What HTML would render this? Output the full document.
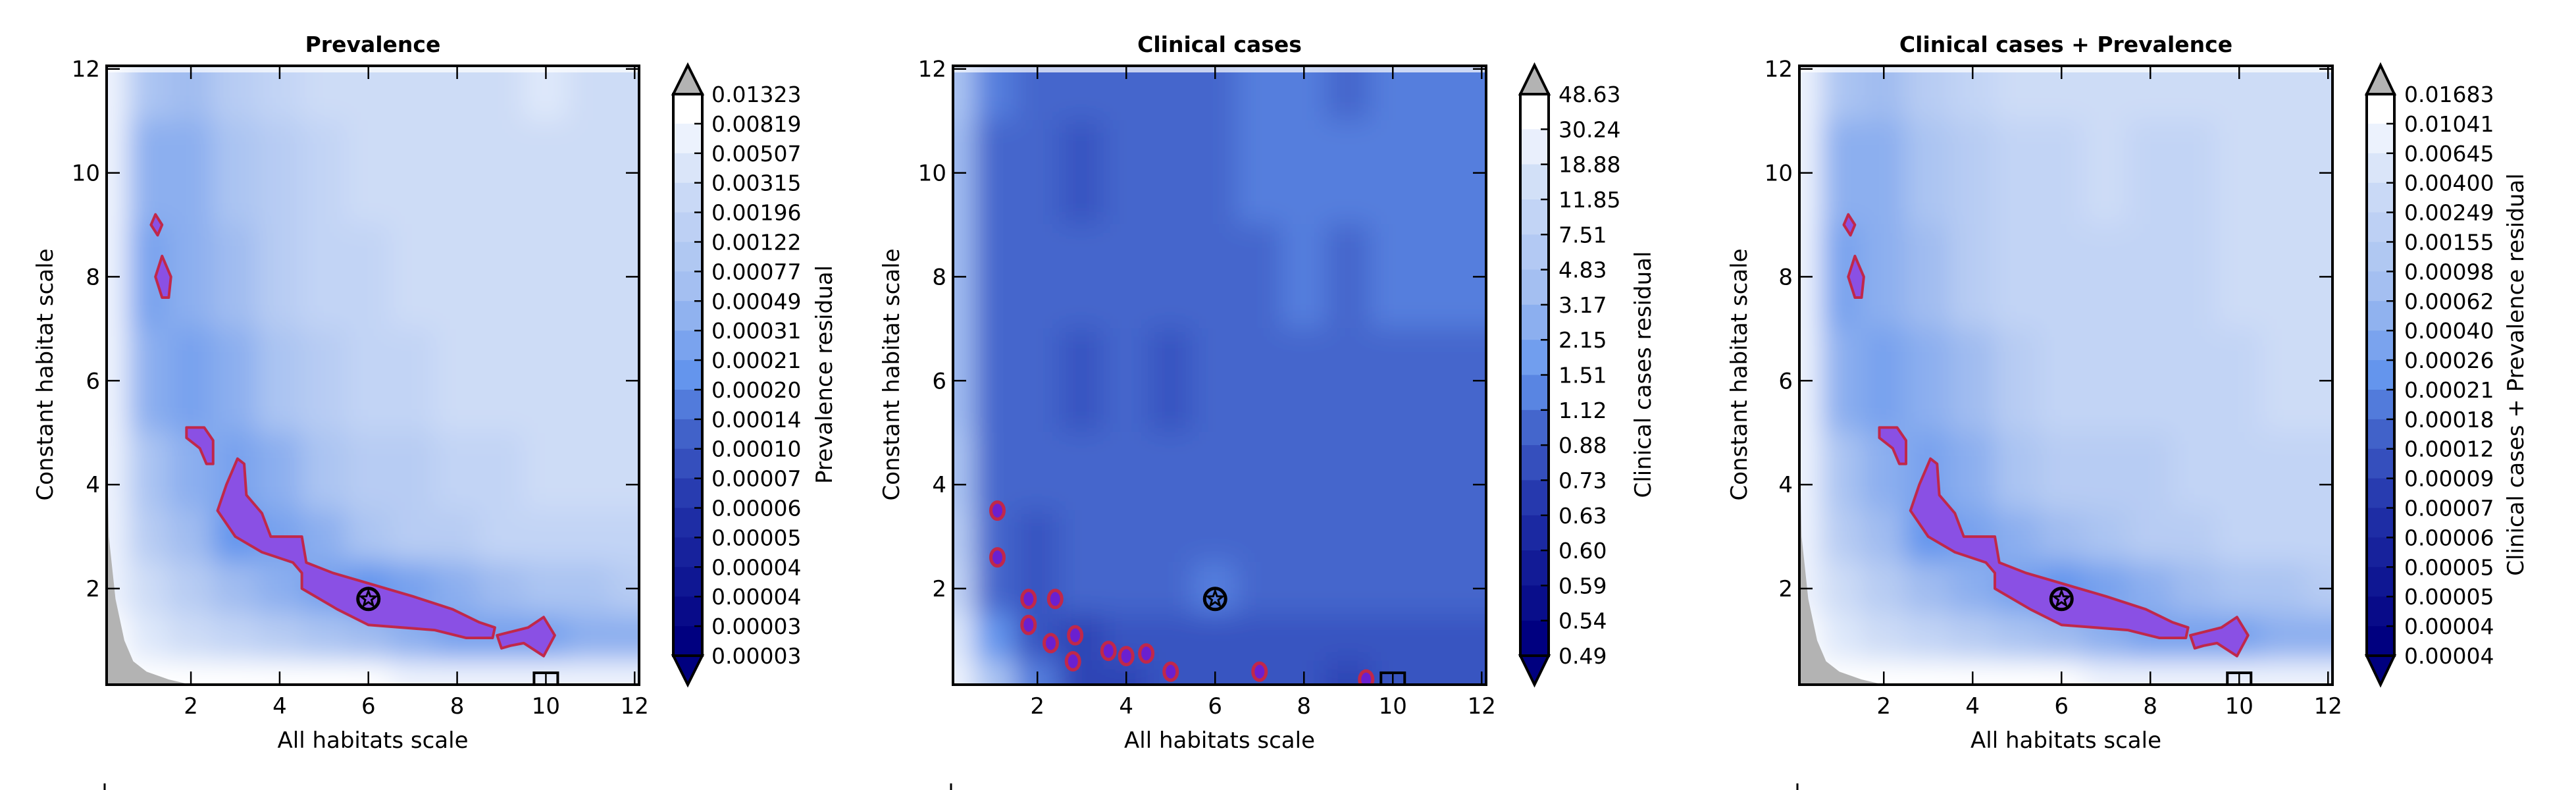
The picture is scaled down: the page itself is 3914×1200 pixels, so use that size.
<!DOCTYPE html>
<html><head><meta charset="utf-8">
<style>
html,body{margin:0;padding:0;background:#fff;}
svg{display:block;font-family:"DejaVu Sans","Liberation Sans",sans-serif;}
</style></head>
<body>
<svg id="fig" width="3914" height="1200" viewBox="0 0 3914 1200" xmlns="http://www.w3.org/2000/svg">
<defs>
<filter id="blur" x="-20%" y="-20%" width="140%" height="140%"><feGaussianBlur stdDeviation="20"/></filter>
</defs>
</svg>
<script>
// ---- data ----
const gridX = [0.2,1,2,3,4,5,6,7,8,9,10,11,12];
const gridY = [12,10,8,6,4,3,2,1,0.2];
const prevLevels = [
 [19,14,13,15,16,17,17,17,17,17,18,17,17],
 [19,12,12,14,15,16,17,17,17,17,17,17,17],
 [19,11,12,13,15,16,16,17,17,17,17,17,17],
 [19,12,11,12,14,15,16,16,17,17,17,17,17],
 [19,14,12,11,12,14,15,15,16,16,17,17,17],
 [19,15,13,10,11,12,14,15,15,16,16,16,16],
 [19,17,15,13,12,11,10,11,12,13,14,14,15],
 [20,18,17,16,15,14,13,12,11,11,11,12,12],
 [20,20,20,20,20,20,20,19,19,19,19,19,19]
];
const clinLevels = [
 [14,9,8,8,8,8,8,9,9,8,9,9,9],
 [13,8,8,7,8,8,8,9,9,9,9,9,9],
 [13,8,8,8,8,8,8,8,9,8,9,9,9],
 [13,8,8,7,8,7,8,8,8,8,8,8,8],
 [14,8,8,8,8,8,8,8,8,8,8,8,8],
 [15,8,7,8,8,8,8,8,8,8,8,8,8],
 [16,8,7,8,8,8,9,8,8,8,8,8,8],
 [18,10,7,6,7,7,7,7,7,7,7,7,7],
 [19,14,9,6,6,7,7,7,7,6,7,7,7]
];
const bothLevels = [
 [19,14,13,15,16,17,17,17,17,17,17,17,17],
 [19,12,12,14,15,16,16,17,16,16,17,17,17],
 [19,11,12,13,15,16,16,16,16,16,17,17,17],
 [19,12,11,12,13,15,16,16,16,16,16,17,17],
 [19,14,12,11,12,14,15,15,15,16,16,16,16],
 [19,15,13,10,11,12,13,14,15,15,16,16,16],
 [19,17,15,13,12,11,10,11,12,13,14,14,15],
 [20,18,17,16,15,14,13,12,11,11,11,12,12],
 [20,20,20,20,20,20,20,19,19,19,19,19,19]
];
const prevTicks = ["0.01323","0.00819","0.00507","0.00315","0.00196","0.00122","0.00077","0.00049","0.00031","0.00021","0.00020","0.00014","0.00010","0.00007","0.00006","0.00005","0.00004","0.00004","0.00003","0.00003"];
const clinTicks = ["48.63","30.24","18.88","11.85","7.51","4.83","3.17","2.15","1.51","1.12","0.88","0.73","0.63","0.60","0.59","0.54","0.49"];
const bothTicks = ["0.01683","0.01041","0.00645","0.00400","0.00249","0.00155","0.00098","0.00062","0.00040","0.00026","0.00021","0.00018","0.00012","0.00009","0.00007","0.00006","0.00005","0.00005","0.00004","0.00004"];
const xTicks = [2,4,6,8,10,12];
const yTicks = [2,4,6,8,10,12];
const bestPoint = [6,1.8];
const squarePoint = [10,0.15];
// purple significance regions (data coords)
const bandMain = [[2.6,3.5],[2.8,4.0],[3.05,4.5],[3.2,4.4],[3.25,3.8],[3.6,3.45],[3.8,3.0],[4.5,3.0],[4.6,2.5],[5.2,2.3],[6.0,2.1],[7.0,1.85],[7.9,1.6],[8.5,1.35],[8.85,1.25],[8.8,1.05],[8.2,1.05],[7.5,1.2],[6.0,1.3],[5.3,1.6],[4.5,2.0],[4.5,2.3],[4.3,2.5],[3.6,2.7],[3.0,3.0]];
const bandRight = [[9.0,0.85],[8.9,1.1],[9.6,1.25],[9.95,1.45],[10.2,1.1],[9.95,0.7],[9.5,0.95],[9.2,0.9]];
const blob5 = [[1.9,5.1],[2.3,5.1],[2.5,4.85],[2.5,4.4],[2.35,4.4],[2.2,4.7],[1.9,4.9]];
const blob8 = [[1.35,8.4],[1.55,8.0],[1.5,7.6],[1.35,7.6],[1.2,8.0]];
const blob9 = [[1.2,9.2],[1.35,9.0],[1.25,8.8],[1.1,9.0]];
const clinSpots = [[1.1,3.5],[1.1,2.6],[1.8,1.8],[2.4,1.8],[1.8,1.3],[2.85,1.1],[2.3,0.95],[3.6,0.8],[4.0,0.7],[4.45,0.75],[5.0,0.4],[7.0,0.4],[9.4,0.25],[2.8,0.6]];
const grayWedge = [[0.1,5],[0.15,3],[0.3,1.8],[0.5,1.0],[0.7,0.6],[1.0,0.4],[1.5,0.25],[2.0,0.15],[0.1,0.15]];

// ---- helpers ----
const NS="http://www.w3.org/2000/svg";
const fig=document.getElementById('fig');
function mk(tag,attrs,parent){const e=document.createElementNS(NS,tag);for(const k in attrs)e.setAttribute(k,attrs[k]);(parent||fig).appendChild(e);return e;}
const stops=[[0,[0,0,128]],[5,[34,51,170]],[8,[68,102,204]],[10,[100,149,237]],[13,[160,188,240]],[17,[205,220,246]],[19,[238,243,253]],[20,[255,255,255]]];
function color(l){for(let i=0;i<stops.length-1;i++){const a=stops[i],b=stops[i+1];if(l<=b[0]){const t=(l-a[0])/(b[0]-a[0]);const c=a[1].map((v,j)=>Math.round(v+(b[1][j]-v)*t));return`rgb(${c[0]},${c[1]},${c[2]})`;}}return'#fff';}
const XMIN=0.1,XMAX=12.1,YMIN=0.15,YMAX=12.06;
const TOP=100,BOT=1040;

const panels=[
 {name:'prevalence',title:'Prevalence',L:162,R:971,levels:prevLevels,ticks:prevTicks,cbL:1023,cbR:1067,cbLabel:'Prevalence residual',cbLabelX:1252,tickTextX:1081,ylabX:68,legend:'0.1-5 percentile Prevalence',gray:true,shapes:[bandMain,bandRight,blob5,blob8,blob9],spots:[]},
 {name:'clinical',title:'Clinical cases',L:1448,R:2258,levels:clinLevels,ticks:clinTicks,cbL:2310,cbR:2353,cbLabel:'Clinical cases residual',cbLabelX:2496,tickTextX:2368,ylabX:1354,legend:'0.1-5 percentile Clinical cases',gray:false,shapes:[],spots:clinSpots},
 {name:'combined',title:'Clinical cases + Prevalence',L:2734,R:3544,levels:bothLevels,ticks:bothTicks,cbL:3596,cbR:3638,cbLabel:'Clinical cases + Prevalence residual',cbLabelX:3822,tickTextX:3653,ylabX:2642,legend:'0.1-5 percentile Clinical cases + Prevalence',gray:true,shapes:[bandMain,bandRight,blob5,blob8,blob9],spots:[]}
];

panels.forEach((p,pi)=>{
 const sx=v=>p.L+(v-XMIN)/(XMAX-XMIN)*(p.R-p.L);
 const sy=v=>BOT-(v-YMIN)/(YMAX-YMIN)*(BOT-TOP);
 const g=mk('g',{});
 
 
 const cp=mk('clipPath',{id:'clip'+pi},g);
 mk('rect',{x:p.L,y:TOP,width:p.R-p.L,height:BOT-TOP},cp);
 const clipG=mk('g',{'clip-path':`url(#clip${pi})`},g);
 
 
 const field=mk('g',{filter:'url(#blur)'},clipG);
 const xe=[];for(let i=0;i<=gridX.length;i++){xe.push(i==0?sx(XMIN)-120:i==gridX.length?sx(XMAX)+120:(sx(gridX[i-1])+sx(gridX[i]))/2);}
 const ye=[];for(let j=0;j<=gridY.length;j++){ye.push(j==0?sy(YMAX)-120:j==gridY.length?sy(YMIN)+120:(sy(gridY[j-1])+sy(gridY[j]))/2);}
 p.levels.forEach((row,j)=>row.forEach((lv,i)=>{
   const r=mk('rect',{x:xe[i]-1,y:ye[j]-1,width:xe[i+1]-xe[i]+2,height:ye[j+1]-ye[j]+2,fill:color(lv)},field);
   
   
 }));
 const ws=mk('rect',{x:p.L,y:TOP,width:p.R-p.L,height:10,fill:'#fff',opacity:0.7},clipG);
 
 
 if(p.gray){
  const gw=mk('polygon',{points:grayWedge.map(d=>sx(d[0])+','+sy(d[1])).join(' '),fill:'#b3b3b3'},clipG);
  
  
 }
 p.shapes.forEach(s=>{
  const pg=mk('polygon',{points:s.map(d=>sx(d[0])+','+sy(d[1])).join(' '),fill:'#8a50e4','stroke':'#c0284a','stroke-width':4,'stroke-linejoin':'round'},clipG);
  
  
 });
 p.spots.forEach(s=>{
  const e=mk('ellipse',{cx:sx(s[0]),cy:sy(s[1]),rx:10,ry:13,fill:'#6a20d0',stroke:'#c0284a','stroke-width':5},clipG);
  
  
 });
 const mc=mk('circle',{cx:sx(bestPoint[0]),cy:sy(bestPoint[1]),r:16,fill:'none',stroke:'#000','stroke-width':5},g);
 
 
 const cx=sx(bestPoint[0]),cy=sy(bestPoint[1]);let pts=[];
 for(let k=0;k<10;k++){const a=-Math.PI/2+k*Math.PI/5,rr=k%2?5:12;pts.push((cx+rr*Math.cos(a))+','+(cy+rr*Math.sin(a)));}
 const st=mk('polygon',{points:pts.join(' '),fill:'none',stroke:'#000','stroke-width':3},g);
 
 
 const sq=mk('rect',{x:sx(squarePoint[0])-18,y:sy(squarePoint[1])-18,width:36,height:18,fill:'none',stroke:'#000','stroke-width':4},g);
 
 
 const fr=mk('rect',{x:p.L,y:TOP,width:p.R-p.L,height:BOT-TOP,fill:'none',stroke:'#000','stroke-width':4},g);
 
 
 xTicks.forEach(t=>{
  const X=sx(t);
  mk('line',{x1:X,x2:X,y1:BOT,y2:BOT-20,stroke:'#000','stroke-width':2.5},g);
  mk('line',{x1:X,x2:X,y1:TOP,y2:TOP+20,stroke:'#000','stroke-width':2.5},g);
  const tx=mk('text',{x:X,y:1084,'font-size':34,'text-anchor':'middle'},g);tx.textContent=t;
  
  
 });
 yTicks.forEach(t=>{
  const Y=sy(t);
  mk('line',{x1:p.L,x2:p.L+20,y1:Y,y2:Y,stroke:'#000','stroke-width':2.5},g);
  mk('line',{x1:p.R,x2:p.R-20,y1:Y,y2:Y,stroke:'#000','stroke-width':2.5},g);
  const tx=mk('text',{x:p.L-10,y:Y+12,'font-size':34,'text-anchor':'end'},g);tx.textContent=t;
  
  
 });
 const ti=mk('text',{x:(p.L+p.R)/2,y:79,'font-size':33,'font-weight':'bold','text-anchor':'middle'},g);ti.textContent=p.title;
 
 
 const xl=mk('text',{x:(p.L+p.R)/2,y:1136,'font-size':34,'text-anchor':'middle'},g);xl.textContent='All habitats scale';
 
 
 const yl=mk('text',{x:0,y:0,'font-size':34,'text-anchor':'middle',transform:`translate(${p.ylabX+12},569) rotate(-90)`},g);yl.textContent='Constant habitat scale';
 
 
 const cb=mk('g',{},g);
 
 
 const CT=143,CB=996,n=p.ticks.length;const seg=(CB-CT)/(n-1);
 for(let k=0;k<n-1;k++){
  const lv=20-k*20/(n-2);
  const r=mk('rect',{x:p.cbL,y:CT+k*seg,width:p.cbR-p.cbL,height:seg+1,fill:color(Math.max(0,lv))},cb);
  
  
 }
 const mid=(p.cbL+p.cbR)/2;
 mk('polygon',{points:`${p.cbL},${CT} ${mid},99 ${p.cbR},${CT}`,fill:'#b3b3b3',stroke:'#000','stroke-width':4,'stroke-linejoin':'miter'},cb);
 mk('polygon',{points:`${p.cbL},${CB} ${mid},1040 ${p.cbR},${CB}`,fill:'#00007f',stroke:'#000','stroke-width':4},cb);
 mk('rect',{x:p.cbL,y:CT,width:p.cbR-p.cbL,height:CB-CT,fill:'none',stroke:'#000','stroke-width':4},cb);
 p.ticks.forEach((t,k)=>{
  const Y=CT+k*seg;
  mk('line',{x1:p.cbR-12,x2:p.cbR,y1:Y,y2:Y,stroke:'#000','stroke-width':2.5},cb);
  const tx=mk('text',{x:p.tickTextX,y:Y+12,'font-size':33},cb);tx.textContent=t;
  
  
 });
 const cl=mk('text',{x:0,y:0,'font-size':34,'text-anchor':'middle',transform:`translate(${p.cbLabelX+12},569) rotate(-90)`},cb);cl.textContent=p.cbLabel;
 
 
 const lg=mk('g',{},g);
 
 
 mk('line',{x1:p.L-3,x2:p.L-3,y1:1190,y2:1200,stroke:'#000','stroke-width':3},lg);
 mk('rect',{x:p.L+10,y:1203,width:70,height:20,fill:'#b3b3b3'},lg);
 const lt=mk('text',{x:p.L+110,y:1226,'font-size':34},lg);lt.textContent=p.legend;
 
 
});
</script>
</body></html>
